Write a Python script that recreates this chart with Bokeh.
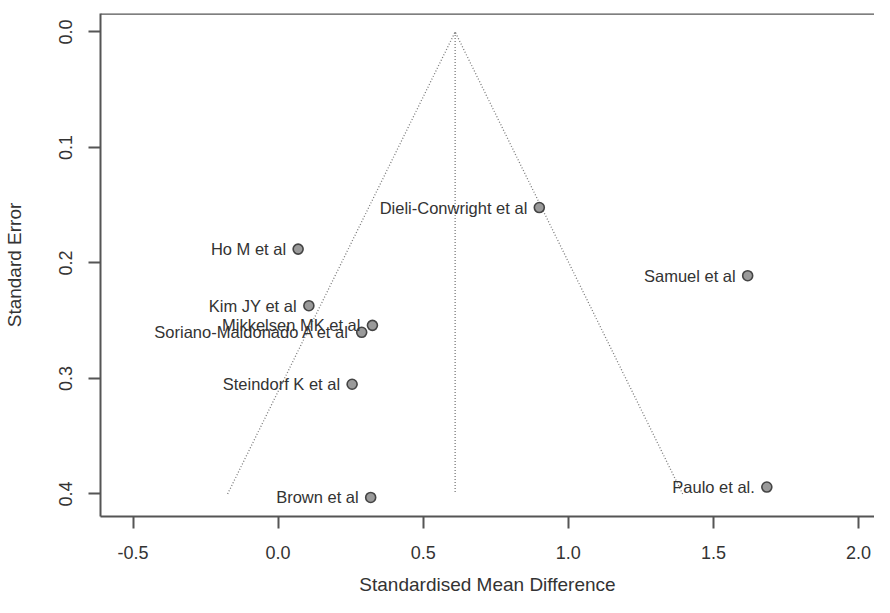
from bokeh.plotting import figure
from bokeh.models import Range1d, FixedTicker, PrintfTickFormatter, Span, ColumnDataSource
from bokeh.core.properties import value
from bokeh.embed import file_html
from bokeh.resources import INLINE

studies = ["Ho M et al", "Dieli-Conwright et al", "Samuel et al", "Kim JY et al",
           "Mikkelsen MK et al", "Soriano-Maldonado A et al", "Steindorf K et al",
           "Brown et al", "Paulo et al."]
smd = [0.069, 0.900, 1.618, 0.106, 0.325, 0.288, 0.255, 0.319, 1.684]
se = [0.188, 0.152, 0.211, 0.237, 0.254, 0.260, 0.305, 0.403, 0.394]
pooled = 0.61
se_max = 0.40
z = 1.96
x_ticks = [-0.5, 0.0, 0.5, 1.0, 1.5, 2.0]
y_ticks = [0.0, 0.1, 0.2, 0.3, 0.4]

FONT = "Liberation Sans"
AX = "#555555"
TXT = "#333333"

p = figure(width=874, height=597, output_backend="svg", toolbar_location=None,
           x_range=Range1d(-0.612, 2.055), y_range=Range1d(0.4195, -0.016),
           min_border_left=100, min_border_top=13, min_border_right=0, min_border_bottom=79,
           background_fill_color="white", border_fill_color="white")
p.outline_line_color = None
p.xgrid.visible = False
p.ygrid.visible = False

# funnel lines
p.line([pooled - z * se_max, pooled, pooled + z * se_max], [se_max, 0, se_max],
       line_color="#7a7a7a", line_dash="1 2", line_width=1.3)
p.line([pooled, pooled], [0, se_max], line_color="#7a7a7a", line_dash="1 2", line_width=1.3)

src = ColumnDataSource(dict(x=smd, y=se, label=studies))
p.scatter("x", "y", source=src, size=10, fill_color="#9a9a9a", line_color="#444444", line_width=1.6)
p.text("x", "y", text="label", source=src, x_offset=-12, text_align="right", text_baseline="middle",
       text_font=value(FONT), text_font_size="16.5px", text_color=TXT)

top = Span(location=-0.016, dimension="width", line_color=AX, line_width=2.5)
p.add_layout(top)

for ax in (p.xaxis[0], p.yaxis[0]):
    ax.axis_line_color = AX
    ax.axis_line_width = 2
    ax.major_tick_line_color = AX
    ax.major_tick_line_width = 2
    ax.major_tick_out = 12
    ax.major_tick_in = 0
    ax.minor_tick_line_color = None
    ax.major_label_text_font = FONT
    ax.major_label_text_font_size = "18px"
    ax.major_label_text_color = TXT
    ax.axis_label_text_font = FONT
    ax.axis_label_text_font_size = "19px"
    ax.axis_label_text_font_style = "normal"
    ax.axis_label_text_color = TXT
    ax.formatter = PrintfTickFormatter(format="%.1f")

p.xaxis[0].ticker = FixedTicker(ticks=x_ticks)
p.yaxis[0].ticker = FixedTicker(ticks=y_ticks)
p.xaxis[0].axis_label = "Standardised Mean Difference"
p.yaxis[0].axis_label = "Standard Error"
p.xaxis[0].major_label_standoff = 17
p.xaxis[0].axis_label_standoff = 12
p.yaxis[0].major_label_orientation = "vertical"
p.yaxis[0].major_label_standoff = 16
p.yaxis[0].axis_label_standoff = 32

open("out.html", "w").write(file_html(p, INLINE))
